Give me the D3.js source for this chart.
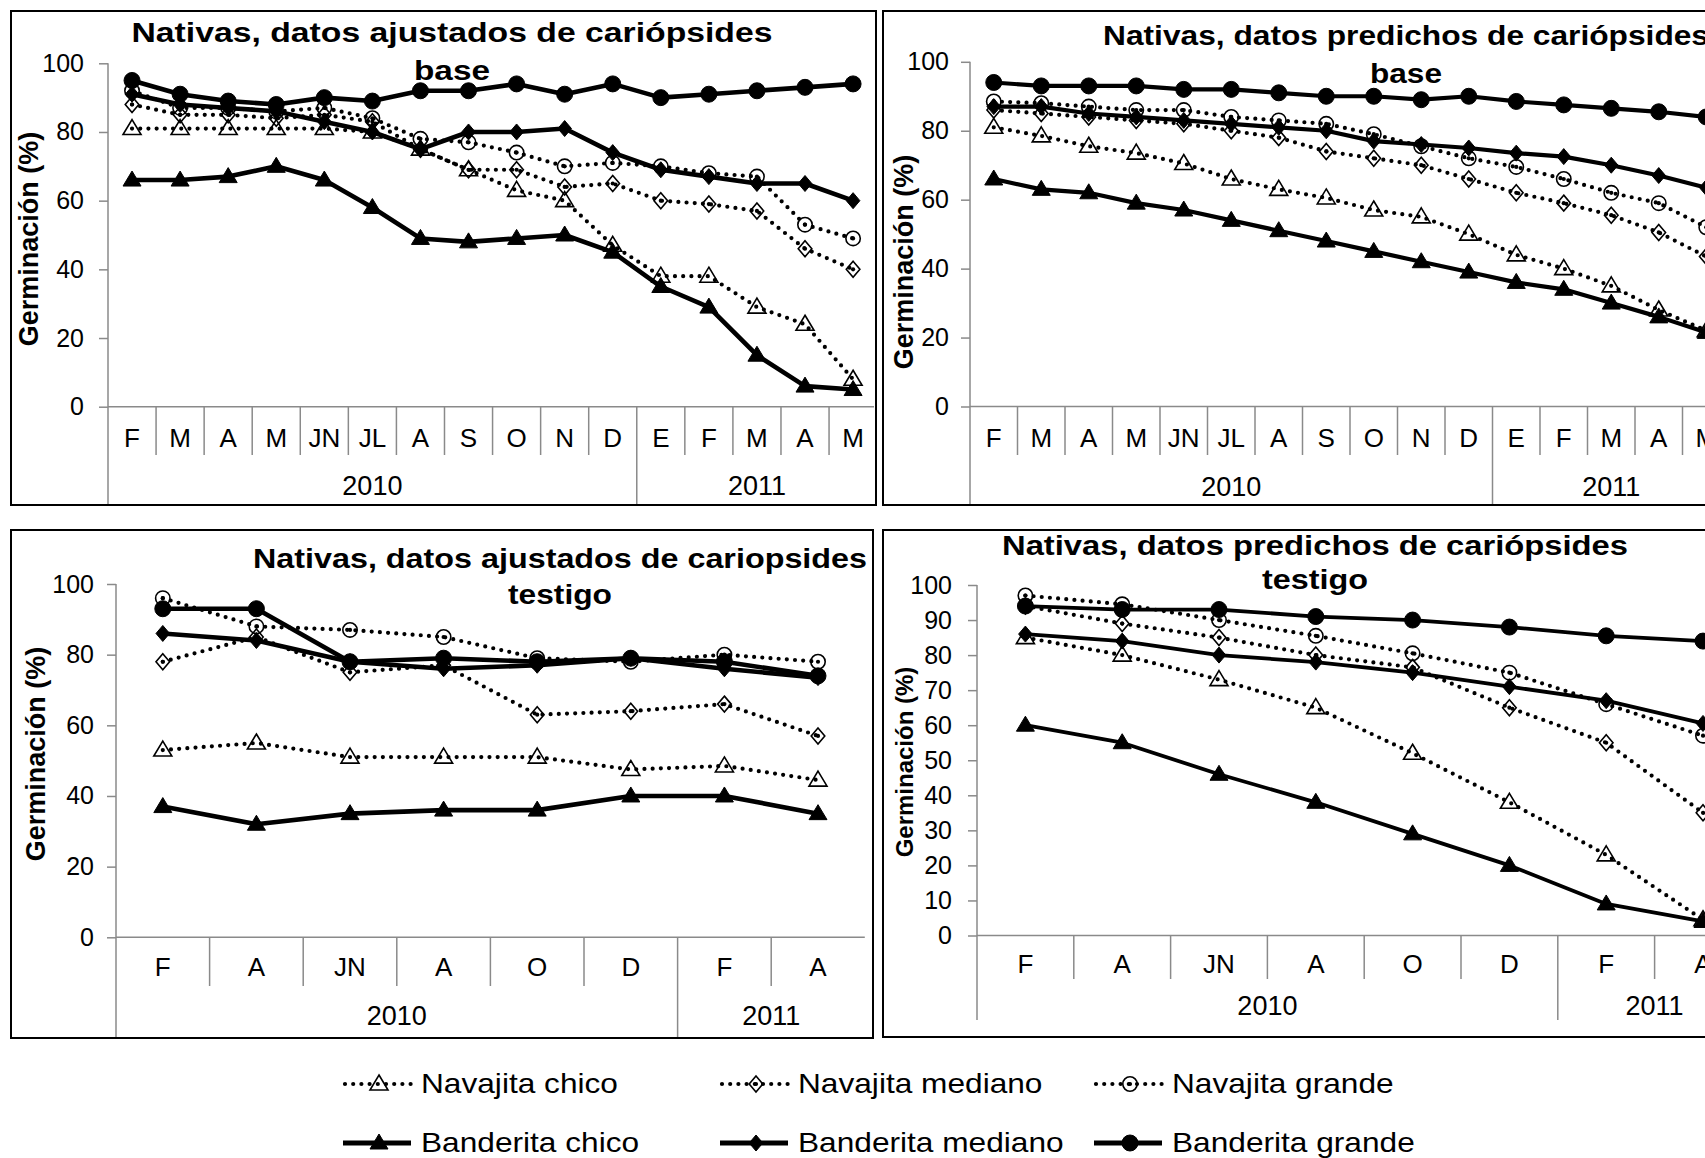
<!DOCTYPE html>
<html>
<head>
<meta charset="utf-8">
<script src="https://cdn.jsdelivr.net/npm/d3@7"></script>
<style>
  html, body { margin: 0; padding: 0; background: #fff; overflow: hidden; }
  svg { display: block; }
  text { font-family: "Liberation Sans", Arial, Helvetica, sans-serif; fill: #000; }
</style>
</head>
<body>
<svg id="chart" width="1705" height="1158"></svg>
<script>
// ---- Category labels ----
const monthsLong  = ["F", "M", "A", "M", "JN", "JL", "A", "S", "O", "N", "D", "E", "F", "M", "A", "M"];
const yearsLong   = [{ label: "2010", from: 0, to: 11 }, { label: "2011", from: 11, to: 16 }];
const monthsShort = ["F", "A", "JN", "A", "O", "D", "F", "A"];
const yearsShort  = [{ label: "2010", from: 0, to: 6 }, { label: "2011", from: 6, to: 8 }];

const seriesNames = ["Navajita chico", "Navajita mediano", "Navajita grande",
                     "Banderita chico", "Banderita mediano", "Banderita grande"];

// ---- Germination (%) : adjusted data, base caryopses ----
const ajBaseNavChico   = [81, 81, 81, 81, 81, 80, 75, 69, 63, 60, 47, 38, 38, 29, 24, 8];
const ajBaseNavMediano = [88, 85, 85, 84, 85, 83, 75, 69, 69, 64, 65, 60, 59, 57, 46, 40];
const ajBaseNavGrande  = [92, 87, 87, 86, 87, 84, 78, 77, 74, 70, 71, 70, 68, 67, 53, 49];
const ajBaseBanChico   = [66, 66, 67, 70, 66, 58, 49, 48, 49, 50, 45, 35, 29, 15, 6, 5];
const ajBaseBanMediano = [91, 88, 87, 86, 83, 80, 75, 80, 80, 81, 74, 69, 67, 65, 65, 60];
const ajBaseBanGrande  = [95, 91, 89, 88, 90, 89, 92, 92, 94, 91, 94, 90, 91, 92, 93, 94];

// ---- predicted data, base caryopses ----
const prBaseNavChico   = [81, 78.5, 75.5, 73.5, 70.5, 66, 63, 60.5, 57, 55, 50, 44, 40, 35, 28, 22];
const prBaseNavMediano = [86, 85, 84, 83, 82, 80, 78, 74, 72, 70, 66, 62, 59, 55.5, 50.5, 43.5];
const prBaseNavGrande  = [88.5, 88, 87, 86, 86, 84, 83, 82, 79, 75.5, 72, 69.5, 66, 62, 59, 52];
const prBaseBanChico   = [66, 63, 62, 59, 57, 54, 51, 48, 45, 42, 39, 36, 34, 30, 26, 21.5];
const prBaseBanMediano = [87, 87, 85, 84, 83, 82, 81, 80, 77, 76, 75, 73.5, 72.5, 70, 67, 63.5];
const prBaseBanGrande  = [94, 93, 93, 93, 92, 92, 91, 90, 90, 89, 90, 88.5, 87.5, 86.5, 85.5, 84];

// ---- adjusted data, control (testigo) caryopses ----
const ajTestNavChico   = [53, 55, 51, 51, 51, 47.5, 48.5, 44.5];
const ajTestNavMediano = [78, 85, 75, 77, 63, 64, 66, 57];
const ajTestNavGrande  = [96, 88, 87, 85, 79, 78, 80, 78];
const ajTestBanChico   = [37, 32, 35, 36, 36, 40, 40, 35];
const ajTestBanMediano = [86, 84, 78, 76, 77, 79, 76, 73.5];
const ajTestBanGrande  = [93, 93, 78, 79, 78, 79, 78, 74];

// ---- predicted data, control (testigo) caryopses ----
const prTestNavChico   = [85, 80, 73, 65, 52, 38, 23, 4.5];
const prTestNavMediano = [94, 89, 85, 80, 76.5, 65, 55, 35];
const prTestNavGrande  = [97, 94.5, 90, 85.5, 80.5, 75, 66, 57];
const prTestBanChico   = [60, 55, 46, 38, 29, 20, 9, 4];
const prTestBanMediano = [86, 84, 80, 78, 75, 71, 67, 60.5];
const prTestBanGrande  = [94, 93, 93, 91, 90, 88, 85.5, 84];

// ---- drawing styles per series (same order as seriesNames) ----
const seriesStyle = [
  { shape: "triangle", filled: false, dotted: true },
  { shape: "diamond",  filled: false, dotted: true },
  { shape: "circle",   filled: false, dotted: true },
  { shape: "triangle", filled: true,  dotted: false },
  { shape: "diamond",  filled: true,  dotted: false },
  { shape: "circle",   filled: true,  dotted: false }
];

// ---- panel layouts ----
const panels = [
  { box: [11, 11, 876, 505], x0: 108, bw: 48.07, cats: monthsLong, years: yearsLong,
    y0: 406.7, y100: 63.3, step: 20, lblGap: 24,
    title: ["Nativas, datos ajustados de cariópsides", "base"], tx: 452, tb: [42, 80], tw: [641, 76],
    yt: [29, 239, 27], monthY: 447, sepB: 455, yearY: 495, vB: 504, solidW: 4.6,
    data: [ajBaseNavChico, ajBaseNavMediano, ajBaseNavGrande, ajBaseBanChico, ajBaseBanMediano, ajBaseBanGrande] },
  { box: [883, 11, 1760, 505], x0: 970, bw: 47.5, cats: monthsLong, years: yearsLong,
    y0: 406.5, y100: 61.8, step: 20, lblGap: 21,
    title: ["Nativas, datos predichos de cariópsides", "base"], tx: 1406, tb: [45, 83], tw: [606, 72],
    yt: [904, 262, 27], monthY: 447, sepB: 455, yearY: 496, vB: 504, solidW: 4.2,
    data: [prBaseNavChico, prBaseNavMediano, prBaseNavGrande, prBaseBanChico, prBaseBanMediano, prBaseBanGrande] },
  { box: [11, 530, 873, 1038], x0: 116, bw: 93.6, cats: monthsShort, years: yearsShort,
    y0: 937.3, y100: 584, step: 20, lblGap: 22,
    title: ["Nativas, datos ajustados de cariopsides", "testigo"], tx: 560, tb: [568, 604], tw: [614, 104],
    yt: [36, 754, 27], monthY: 976, sepB: 986, yearY: 1025, vB: 1037, solidW: 4.6,
    data: [ajTestNavChico, ajTestNavMediano, ajTestNavGrande, ajTestBanChico, ajTestBanMediano, ajTestBanGrande] },
  { box: [883, 530, 1760, 1037], x0: 977, bw: 96.8, cats: monthsShort, years: yearsShort,
    y0: 935.5, y100: 585, step: 10, lblGap: 25,
    title: ["Nativas, datos predichos de cariópsides", "testigo"], tx: 1315, tb: [555, 589], tw: [626, 106],
    yt: [904, 762, 24], monthY: 973, sepB: 979, yearY: 1015, vB: 1020, solidW: 3.8,
    data: [prTestNavChico, prTestNavMediano, prTestNavGrande, prTestBanChico, prTestBanMediano, prTestBanGrande] }
];

const AXIS = "#8a8a8a";
const svg = d3.select("#chart");

function markerPath(shape) {
  if (shape === "triangle") return "M0,-9 L9,6 L-9,6 Z";
  if (shape === "diamond")  return "M0,-8 L6.8,0 L0,8 L-6.8,0 Z";
  return null;
}

function drawMarker(g, shape, filled, cx, cy) {
  let m;
  if (shape === "circle") {
    m = g.append("circle").attr("cx", cx).attr("cy", cy).attr("r", filled ? 8 : 7.2);
  } else {
    m = g.append("path").attr("d", markerPath(shape)).attr("transform", `translate(${cx},${cy})`);
  }
  m.attr("fill", filled ? "#000" : "none")
   .attr("stroke", "#000")
   .attr("stroke-width", filled ? 1 : 1.6);
  if (!filled && shape !== "triangle") {
    g.append("circle").attr("cx", cx).attr("cy", cy).attr("r", 2.1).attr("fill", "#000");
  }
}

function dottedStroke(sel) {
  return sel.attr("stroke", "#000").attr("stroke-width", 4.2)
    .attr("stroke-dasharray", "0 8.2").attr("stroke-linecap", "round");
}

panels.forEach(p => {
  const g = svg.append("g");
  const n = p.cats.length;
  const x = d3.scaleBand().domain(d3.range(n)).range([p.x0, p.x0 + n * p.bw]).padding(0);
  const y = d3.scaleLinear().domain([0, 100]).range([p.y0, p.y100]);
  const right = Math.min(x.range()[1], p.box[2] - 2);

  // panel frame
  g.append("rect")
    .attr("x", p.box[0]).attr("y", p.box[1])
    .attr("width", p.box[2] - p.box[0]).attr("height", p.box[3] - p.box[1])
    .attr("fill", "#fff").attr("stroke", "#000").attr("stroke-width", 2);

  // value axis
  const yAxis = d3.axisLeft(y)
    .tickValues(d3.range(0, 101, p.step))
    .tickSize(9).tickSizeOuter(0)
    .tickPadding(p.lblGap - 9);
  const ya = g.append("g").attr("transform", `translate(${p.x0},0)`).call(yAxis);
  ya.select(".domain").remove();
  ya.selectAll(".tick line").attr("stroke", AXIS).attr("stroke-width", 1.5);
  ya.selectAll(".tick text").attr("font-size", 25).attr("fill", "#000")
    .style("font-family", '"Liberation Sans", Arial, sans-serif');
  g.append("line").attr("x1", p.x0).attr("x2", p.x0)
    .attr("y1", y(100)).attr("y2", p.vB)
    .attr("stroke", AXIS).attr("stroke-width", 1.5);

  // category axis: baseline, separators, month and year labels
  g.append("line").attr("x1", p.x0).attr("x2", right)
    .attr("y1", y(0)).attr("y2", y(0)).attr("stroke", AXIS).attr("stroke-width", 1.5);
  const yearBounds = p.years.map(d => d.from).filter(v => v > 0);
  d3.range(1, n).forEach(i => {
    const xx = x(i);
    if (xx > p.box[2]) return;
    g.append("line").attr("x1", xx).attr("x2", xx)
      .attr("y1", y(0)).attr("y2", yearBounds.includes(i) ? p.vB : p.sepB)
      .attr("stroke", AXIS).attr("stroke-width", 1.5);
  });
  g.selectAll("text.month").data(p.cats).join("text")
    .attr("class", "month")
    .attr("x", (d, i) => x(i) + x.bandwidth() / 2)
    .attr("y", p.monthY)
    .attr("text-anchor", "middle").attr("font-size", 26)
    .text(d => d);
  g.selectAll("text.year").data(p.years).join("text")
    .attr("class", "year")
    .attr("x", d => (x(d.from) + x(d.to - 1) + x.bandwidth()) / 2)
    .attr("y", p.yearY)
    .attr("text-anchor", "middle").attr("font-size", 27)
    .text(d => d.label);

  // value axis title
  g.append("text")
    .attr("transform", `translate(${p.yt[0]},${p.yt[1]}) rotate(-90)`)
    .attr("text-anchor", "middle").attr("dominant-baseline", "central")
    .attr("font-size", p.yt[2]).attr("font-weight", "bold")
    .text("Germinación (%)");

  // chart title (two lines)
  p.title.forEach((t, k) => {
    g.append("text")
      .attr("x", p.tx).attr("y", p.tb[k])
      .attr("text-anchor", "middle").attr("font-size", 28).attr("font-weight", "bold")
      .attr("textLength", p.tw[k]).attr("lengthAdjust", "spacingAndGlyphs")
      .text(t);
  });

  // series: dotted (Navajita) first, solid (Banderita) on top
  const line = d3.line().x((d, i) => x(i) + x.bandwidth() / 2).y(d => y(d));
  p.data.forEach((vals, s) => {
    const st = seriesStyle[s];
    const sg = g.append("g");
    const path = sg.append("path").datum(vals).attr("d", line).attr("fill", "none");
    if (st.dotted) dottedStroke(path);
    else path.attr("stroke", "#000").attr("stroke-width", p.solidW).attr("stroke-linejoin", "round");
    vals.forEach((v, i) => drawMarker(sg, st.shape, st.filled, x(i) + x.bandwidth() / 2, y(v)));
  });
});

// ---- legend ----
const legendCols = [343, 720, 1094];
const legendRows = [1084, 1143];
const leg = svg.append("g");
seriesNames.forEach((name, s) => {
  const st = seriesStyle[s];
  const lx = legendCols[s % 3];
  const ly = legendRows[Math.floor(s / 3)];
  const item = leg.append("g");
  const ln = item.append("line").attr("x1", lx).attr("x2", lx + 68).attr("y1", ly).attr("y2", ly);
  if (st.dotted) dottedStroke(ln).attr("x1", lx + 2);
  else ln.attr("stroke", "#000").attr("stroke-width", 5);
  drawMarker(item, st.shape, st.filled, lx + 36, ly);
  const t = item.append("text")
    .attr("x", lx + 78).attr("y", ly + 9)
    .attr("font-size", 28).text(name);
  const w = t.node().getComputedTextLength();
  t.attr("textLength", w * 1.13).attr("lengthAdjust", "spacingAndGlyphs");
});
</script>
</body>
</html>
